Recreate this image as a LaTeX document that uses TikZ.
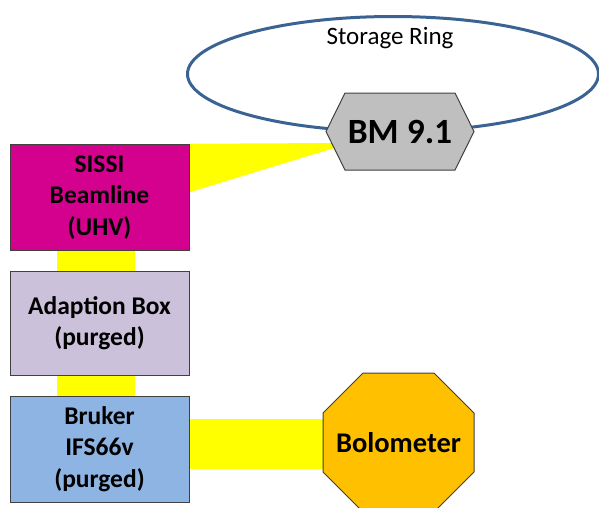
\documentclass[tikz,border=0pt]{standalone}
\usepackage{fontspec}
\setmainfont{Carlito}
\usetikzlibrary{calc,backgrounds,shapes.geometric}
\definecolor{ringblue}{HTML}{3A6393}
\definecolor{sissicol}{HTML}{D4008E}
\definecolor{adaptcol}{HTML}{CCC1DA}
\definecolor{brukercol}{HTML}{8EB4E3}
\definecolor{bolocol}{HTML}{FFC000}
\definecolor{bmcol}{HTML}{BFBFBF}
\definecolor{edgecol}{HTML}{404040}
\definecolor{beamcol}{HTML}{FFFF00}
\tikzset{
  box/.style={draw=edgecol, line width=1pt, minimum width=179pt, minimum height=106pt,
    align=center, inner sep=0pt, font=\fontsize{25.5}{31.5}\selectfont\bfseries},
  ring/.style={ellipse, draw=ringblue, line width=3pt, minimum width=411pt, minimum height=115pt, inner sep=0pt},
  beam/.style={fill=beamcol},
  shapefill/.style={draw=edgecol, line width=1pt},
  bmtext/.style={inner sep=0pt, font=\fontsize{35.5}{40}\selectfont\bfseries},
  bolotext/.style={inner sep=0pt, font=\fontsize{28.5}{33}\selectfont\bfseries},
  ringtext/.style={inner sep=0pt, font=\fontsize{25}{30}\selectfont}
}
\begin{document}
\begin{tikzpicture}[x=1pt,y=-1pt]
\useasboundingbox (0,0) rectangle (599,507);
\node[box, fill=sissicol, minimum height=106.5pt] (sissi) at (99.5,197.5) {SISSI\\Beamline\\(UHV)};
\node[box, fill=adaptcol, minimum height=104pt] (adapt) at (99.5,323) {Adaption Box\\(purged)};
\node[box, fill=brukercol, minimum height=106pt] (bruker) at (99.5,449) {Bruker\\IFS66v\\(purged)};
\node[bmtext] (bm) at (400,131.5) {BM 9.1};
\node[bolotext] (bolo) at (398.5,442.5) {Bolometer};
\node[ringtext] (ringlabel) at (390,38) {Storage Ring};
\begin{scope}[on background layer]
  \node[ring] (ring) at (393,74) {};
  % beams
  \fill[beam] (sissi.north east) -- ($(bm.center)+(-64,11.5)$) -- ($(bm.center)+(-64,16)$)
     -- ($(sissi.north east)+(0,48.5)$) -- cycle;
  \fill[beam] ($(sissi.south)+(-42.5,0)$) rectangle ($(adapt.north)+(35.5,0)$);
  \fill[beam] ($(adapt.south)+(-42.5,0)$) rectangle ($(bruker.north)+(35.5,0)$);
  \fill[beam] ($(bruker.east)+(0,-30)$) rectangle ($(bolo.center)+(-70,26.5)$);
  % hexagon BM 9.1
  \filldraw[shapefill, fill=bmcol] ($(bm.center)+(-74,0)$) -- ($(bm.center)+(-55,-38.5)$)
     -- ($(bm.center)+(55,-38.5)$) -- ($(bm.center)+(74,0)$) -- ($(bm.center)+(55,38.5)$)
     -- ($(bm.center)+(-55,38.5)$) -- cycle;
  % octagon Bolometer
  \filldraw[shapefill, fill=bolocol] ($(bolo.center)+(-35.5,-69.5)$) -- ($(bolo.center)+(35.5,-69.5)$)
     -- ($(bolo.center)+(75.5,-29.5)$) -- ($(bolo.center)+(75.5,29.5)$) -- ($(bolo.center)+(35.5,69.5)$)
     -- ($(bolo.center)+(-35.5,69.5)$) -- ($(bolo.center)+(-75.5,29.5)$) -- ($(bolo.center)+(-75.5,-29.5)$) -- cycle;
\end{scope}
\end{tikzpicture}
\end{document}
